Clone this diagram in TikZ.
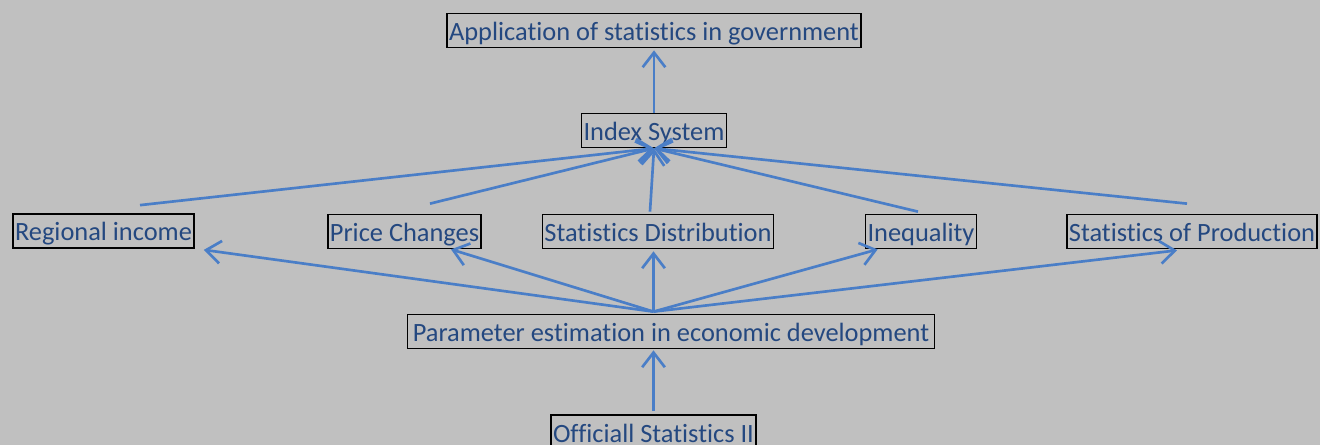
\documentclass[tikz,border=0pt]{standalone}
\usepackage{fontspec}
\setmainfont{Carlito}[Ligatures=NoCommon]
\usetikzlibrary{arrows.meta, calc}
\definecolor{bggray}{RGB}{192,192,192}
\definecolor{textblue}{RGB}{36,72,128}
\definecolor{arrowblue}{RGB}{74,126,199}

\begin{document}
\begin{tikzpicture}[x=0.75pt, y=-0.75pt,
    box/.style={draw=black, line width=1.3pt, text=textblue, inner xsep=1.5pt, inner ysep=1pt,
        text height=19.25pt, text depth=4.25pt, font=\fontsize{19.8}{23}\selectfont},
    link/.style={draw=arrowblue, line width=2pt, -{Straight Barb[length=11pt, width=17pt]}}]
    \fill [bggray] (0,0) rectangle (1320,445);
    \useasboundingbox (0,0) rectangle (1320,445);
    % boxes
    \node [box] (gov) at (654,30.5) {Application of statistics in government};
    \node [box] (index) at (654,130.5) {Index System};
    \node [box] (regional) at (103.5,231) {Regional income};
    \node [box] (price) at (404.5,231.5) {Price Changes};
    \node [box] (distrib) at (658,231.5) {Statistics Distribution};
    \node [box] (ineq) at (921,231.5) {Inequality};
    \node [box] (prod) at (1192,231.5) {Statistics of Production};
    \node [box, inner xsep=4pt] (param) at (671,331.5) {Parameter estimation in economic development};
    \node [box] (official) at (653.5,432) {Officiall Statistics II};
    % into the index system
    \draw [link] (index.north) -- ($(gov.south)+(0,2)$);
    \draw [link] ($(regional.north)+(36.5,-8)$) -- (index.south);
    \draw [link] ($(price.north)+(25.5,-10)$) -- (index.south);
    \draw [link] ($(distrib.north)+(-8,-2)$) -- (index.south);
    \draw [link] ($(ineq.north)+(-3,-2)$) -- (index.south);
    \draw [link] ($(prod.north)+(-5,-10)$) -- (index.south);
    % out of the parameter estimation
    \coordinate (hub) at ($(param.north -| official.north)+(0,-2)$);
    \draw [link] (hub) -- ($(regional.south east)+(9,1)$);
    \draw [link] (hub) -- ($(price.south east)+(-31,0)$);
    \draw [link] (hub) -- ($(distrib.south -| official.north)+(0,2)$);
    \draw [link] (hub) -- ($(ineq.south west)+(13,0)$);
    \draw [link] (hub) -- ($(prod.south)+(-15,1)$);
    \draw [link] ($(official.north)+(0,-3)$) -- ($(param.south -| official.north)+(0,1)$);
\end{tikzpicture}
\end{document}
